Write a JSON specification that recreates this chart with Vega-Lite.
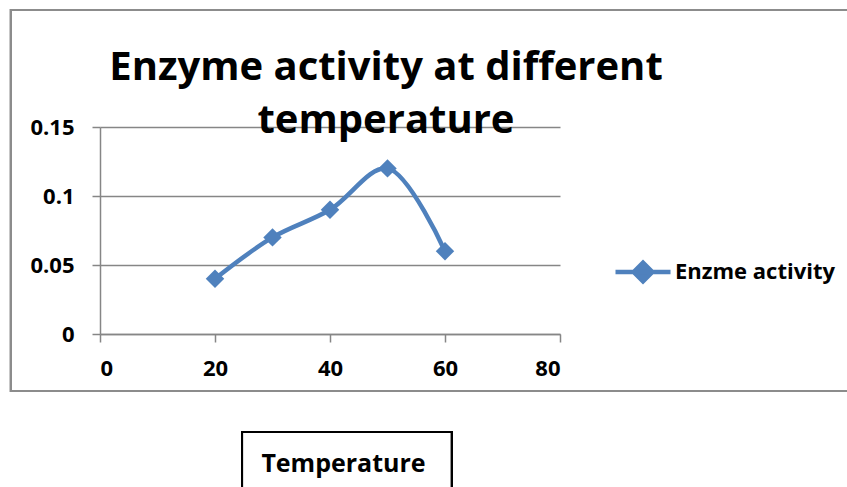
{
  "$schema": "https://vega.github.io/schema/vega-lite/v6.json",
  "autosize": "none",
  "width": 460,
  "height": 207,
  "padding": {"left": 100, "top": 127, "right": 287, "bottom": 153},
  "background": "white",
  "config": {
    "view": {"stroke": null},
    "font": "Open Sans"
  },
  "title": {
    "text": ["Enzyme activity at different", "temperature"],
    "font": "Open Sans",
    "fontSize": 40,
    "fontWeight": "bold",
    "color": "black",
    "anchor": "middle",
    "frame": "group",
    "baseline": "top",
    "lineHeight": 53,
    "dx": 56,
    "offset": -132
  },
  "data": {
    "values": [
      {"temperature": 20, "activity": 0.04, "series": "Enzme activity"},
      {"temperature": 30, "activity": 0.07, "series": "Enzme activity"},
      {"temperature": 40, "activity": 0.09, "series": "Enzme activity"},
      {"temperature": 50, "activity": 0.12, "series": "Enzme activity"},
      {"temperature": 60, "activity": 0.06, "series": "Enzme activity"}
    ]
  },
  "layer": [
    {
      "mark": {"type": "rect", "filled": false, "stroke": "#8c8c8c", "strokeWidth": 2},
      "encoding": {
        "x": {"datum": -15.5, "type": "quantitative"},
        "x2": {"datum": 130.8},
        "y": {"datum": 0.2348, "type": "quantitative"},
        "y2": {"datum": -0.0413}
      }
    },
    {
      "mark": {"type": "rect", "filled": false, "stroke": "black", "strokeWidth": 2},
      "encoding": {
        "x": {"datum": 24.7, "type": "quantitative"},
        "x2": {"datum": 61.2},
        "y": {"datum": -0.071, "type": "quantitative"},
        "y2": {"datum": -0.125}
      }
    },
    {
      "mark": {
        "type": "line",
        "interpolate": "catmull-rom",
        "strokeWidth": 4.5,
        "point": {"shape": "diamond", "size": 340, "filled": true, "opacity": 1}
      },
      "encoding": {
        "x": {
          "field": "temperature",
          "type": "quantitative",
          "scale": {"domain": [0, 80], "nice": false, "zero": false},
          "axis": {
            "values": [0, 20, 40, 60, 80],
            "grid": false,
            "domainColor": "#868686",
            "domainWidth": 1.5,
            "tickColor": "#868686",
            "tickWidth": 1.5,
            "tickSize": 8,
            "labelFont": "Open Sans",
            "labelFontSize": 22,
            "labelFontWeight": "bold",
            "labelColor": "black",
            "labelPadding": 16,
            "title": "Temperature",
            "titleFont": "Open Sans",
            "titleFontSize": 25,
            "titleFontWeight": "bold",
            "titleColor": "black",
            "titleX": 243,
            "titleY": 129,
            "titleAlign": "center",
            "titleBaseline": "middle",
            "titleAnchor": null
          }
        },
        "y": {
          "field": "activity",
          "type": "quantitative",
          "scale": {"domain": [0, 0.15], "nice": false},
          "axis": {
            "values": [0, 0.05, 0.1, 0.15],
            "format": "~g",
            "grid": true,
            "gridColor": "#868686",
            "gridWidth": 1.5,
            "domainColor": "#868686",
            "domainWidth": 1.5,
            "tickColor": "#868686",
            "tickWidth": 1.5,
            "tickSize": 8,
            "labelFont": "Open Sans",
            "labelFontSize": 22,
            "labelFontWeight": "bold",
            "labelColor": "black",
            "labelPadding": 18,
            "title": null
          }
        },
        "color": {
          "field": "series",
          "type": "nominal",
          "scale": {"range": ["#4F81BD"]},
          "legend": {
            "title": null,
            "orient": "none",
            "legendX": 513,
            "legendY": 115,
            "symbolType": "M-1,0H1M-0.34,0L0,-0.34L0.34,0L0,0.34Z",
            "symbolSize": 3025,
            "symbolStrokeWidth": 4.5,
            "symbolFillColor": "#4F81BD",
            "symbolStrokeColor": "#4F81BD",
            "labelOffset": 2,
            "labelFont": "Open Sans",
            "labelFontSize": 22,
            "labelFontWeight": "bold",
            "labelColor": "black"
          }
        }
      }
    }
  ]
}
